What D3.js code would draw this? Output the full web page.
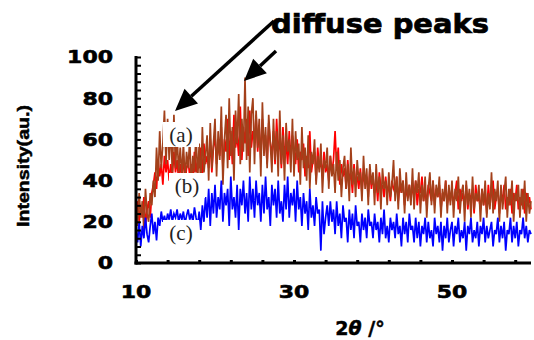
<!DOCTYPE html>
<html>
<head>
<meta charset="utf-8">
<script src="https://cdn.jsdelivr.net/npm/d3@7"></script>
<style>
  body { margin: 0; background: #fff; }
  svg { display: block; }
</style>
</head>
<body>
<script>
// ─── DATA (2θ from 10 to 60, step 0.2°) ────────────────────────────────
const start = 10, step = 0.2;

const seriesA = [ // (a) brown
  28, 18, 34, 22, 30, 16, 36, 24, 20, 34, 28, 40, 32, 56, 40, 64, 46, 58, 74, 48, 70, 50, 66, 44, 72,
  46, 62, 44, 56, 42, 58, 40, 54, 46, 60, 38, 52, 44, 64, 40, 58, 36, 66, 44, 52, 62, 40, 68, 46, 58,
  70, 42, 64, 50, 76, 38, 60, 72, 46, 80, 52, 66, 40, 74, 58, 82, 48, 70, 54, 90, 50, 76, 44, 72, 80,
  48, 74, 56, 70, 42, 78, 52, 66, 46, 72, 58, 44, 70, 50, 64, 42, 74, 48, 62, 40, 68, 54, 60, 44, 70,
  42, 64, 50, 58, 38, 66, 46, 56, 40, 62, 36, 54, 48, 60, 38, 52, 44, 58, 34, 50, 46, 56, 36, 52, 42,
  48, 34, 54, 40, 50, 32, 46, 52, 36, 48, 30, 56, 38, 46, 32, 50, 40, 44, 30, 52, 36, 46, 28, 48, 38,
  44, 28, 48, 34, 42, 26, 46, 36, 40, 28, 44, 32, 38, 50, 30, 42, 26, 46, 34, 40, 24, 44, 30, 38, 28,
  46, 26, 40, 34, 44, 24, 38, 30, 42, 22, 36, 44, 28, 40, 24, 38, 32, 42, 22, 36, 30, 40, 24, 38, 28,
  40, 22, 36, 30, 42, 24, 34, 38, 20, 40, 28, 36, 22, 42, 26, 34, 30, 38, 20, 36, 28, 40, 22, 34, 26,
  44, 24, 36, 30, 40, 20, 38, 26, 34, 42, 22, 36, 28, 40, 20, 34, 30, 38, 22, 36, 26, 40, 20, 34, 24,
  30
];

const seriesB = [ // (b) red
  24, 30, 20, 28, 22, 32, 18, 26, 30, 22, 34, 38, 44, 36, 50, 42, 48, 38, 52, 44, 50, 40, 48, 42, 54,
  44, 50, 40, 48, 42, 52, 38, 46, 50, 42, 48, 40, 54, 44, 50, 46, 56, 42, 58, 48, 52, 46, 60, 44, 56,
  62, 48, 58, 52, 66, 46, 60, 54, 70, 50, 64, 48, 72, 56, 62, 52, 76, 50, 66, 58, 70, 52, 74, 56, 64,
  60, 72, 54, 66, 50, 70, 56, 62, 48, 68, 58, 52, 64, 48, 70, 54, 60, 46, 66, 52, 58, 48, 64, 50, 62,
  56, 48, 60, 44, 54, 50, 58, 42, 52, 46, 64, 44, 50, 54, 40, 56, 46, 50, 42, 54, 44, 48, 40, 52, 44,
  50, 64, 46, 56, 38, 48, 42, 46, 36, 50, 40, 44, 34, 48, 38, 42, 36, 46, 34, 44, 38, 42, 32, 46, 36,
  42, 34, 40, 30, 44, 36, 38, 32, 42, 34, 38, 30, 40, 36, 34, 42, 30, 38, 34, 40, 28, 36, 32, 38, 30,
  38, 32, 40, 28, 36, 34, 42, 30, 36, 28, 38, 34, 30, 40, 28, 36, 32, 38, 26, 34, 30, 40, 28, 34, 30,
  36, 28, 34, 40, 26, 36, 30, 34, 28, 38, 26, 34, 30, 36, 24, 38, 30, 32, 26, 36, 28, 34, 24, 38, 28,
  34, 40, 26, 32, 36, 24, 34, 30, 38, 26, 32, 28, 36, 24, 34, 30, 38, 26, 32, 28, 36, 24, 34, 28, 32,
  26
];

const seriesC = [ // (c) blue
  16, 10, 20, 8, 18, 12, 22, 14, 10, 18, 24, 14, 20, 11, 22, 18, 25, 20, 23, 19, 24, 21, 26, 20, 24,
  22, 26, 20, 24, 21, 25, 19, 23, 26, 21, 24, 20, 27, 22, 18, 25, 16, 28, 20, 32, 22, 36, 18, 34, 24,
  38, 22, 32, 26, 40, 20, 34, 28, 36, 18, 42, 26, 32, 22, 38, 16, 36, 28, 40, 24, 34, 20, 42, 26, 36,
  22, 40, 28, 34, 20, 38, 24, 42, 26, 32, 18, 38, 28, 36, 22, 40, 24, 30, 20, 38, 26, 42, 22, 34, 28,
  36, 20, 40, 26, 32, 18, 34, 24, 30, 16, 36, 22, 28, 18, 32, 24, 26, 6, 30, 14, 22, 28, 18, 30, 20,
  26, 14, 30, 18, 24, 12, 28, 20, 22, 10, 26, 16, 24, 12, 28, 18, 20, 10, 24, 16, 22, 12, 26, 18, 20,
  12, 24, 16, 20, 10, 22, 14, 26, 12, 18, 10, 22, 16, 20, 12, 24, 14, 18, 8, 22, 14, 20, 10, 24, 16,
  18, 10, 22, 12, 20, 8, 18, 14, 22, 10, 20, 12, 16, 8, 22, 14, 18, 10, 20, 6, 18, 12, 22, 10, 16,
  20, 8, 18, 14, 22, 10, 16, 12, 20, 6, 18, 14, 22, 10, 16, 12, 20, 8, 18, 14, 22, 10, 18, 12, 16,
  20, 8, 16, 14, 22, 10, 18, 12, 20, 6, 16, 14, 22, 10, 18, 12, 20, 8, 16, 14, 22, 12, 18, 10, 16,
  14
];

const yTickLabels = [0, 20, 40, 60, 80, 100];
const xTickLabels = [10, 30, 50];
const seriesLabels = ["(a)", "(b)", "(c)"];

// ─── LAYOUT ────────────────────────────────────────────────────────────
const width = 534, height = 340;
const x = d3.scaleLinear().domain([10, 60]).range([136, 531]);
const y = d3.scaleLinear().domain([0, 100]).range([263, 57]);

const svg = d3.select("body").append("svg")
  .attr("width", width)
  .attr("height", height);

// series drawn red, brown, blue
const line = d3.line()
  .x((d, i) => x(start + i * step))
  .y(d => y(d));

const series = [
  { data: seriesB, color: "#ff0000" },
  { data: seriesA, color: "#a3401a" },
  { data: seriesC, color: "#0000ff" }
];

svg.selectAll("path.series")
  .data(series)
  .join("path")
    .attr("class", "series")
    .attr("d", d => line(d.data))
    .attr("fill", "none")
    .attr("stroke", d => d.color)
    .attr("stroke-width", 1.7)
    .attr("stroke-linejoin", "miter");

// ─── SERIES LABEL BOXES ────────────────────────────────────────────────
const labelPos = [[181, 135], [187, 186], [181, 233]];
const boxes = svg.selectAll("g.lab")
  .data(seriesLabels)
  .join("g")
    .attr("class", "lab")
    .attr("transform", (d, i) => `translate(${labelPos[i][0]},${labelPos[i][1]})`);
boxes.append("rect")
  .attr("x", -18).attr("y", -13).attr("width", 36).attr("height", 25)
  .attr("fill", "#fff");
boxes.append("text")
  .attr("text-anchor", "middle")
  .attr("dy", "0.35em")
  .attr("font-family", "'Liberation Serif', 'Times New Roman', serif")
  .attr("font-size", 21)
  .attr("fill", "#222")
  .text(d => d);

// ─── AXES ──────────────────────────────────────────────────────────────
const yMinor = d3.range(0, 101, 4);
const xMinor = d3.range(10, 61, 4);

const yAx = svg.append("g")
  .attr("transform", `translate(${x(10)},0)`)
  .call(d3.axisRight(y).tickValues(yMinor).tickSize(5).tickFormat(""));
yAx.select(".domain").remove();
yAx.selectAll("line").attr("stroke", "#000").attr("stroke-width", 2);

const xAx = svg.append("g")
  .attr("transform", `translate(0,${y(0)})`)
  .call(d3.axisTop(x).tickValues(xMinor).tickSize(3).tickFormat(""));
xAx.select(".domain").remove();
xAx.selectAll("line").attr("stroke", "#000").attr("stroke-width", 3);

svg.append("line")
  .attr("x1", x(10)).attr("x2", x(10))
  .attr("y1", y(100) - 1).attr("y2", y(0) + 1.5)
  .attr("stroke", "#000").attr("stroke-width", 3);
svg.append("line")
  .attr("x1", x(10) - 1.5).attr("x2", x(60))
  .attr("y1", y(0)).attr("y2", y(0))
  .attr("stroke", "#000").attr("stroke-width", 3);

const tickFont = "'DejaVu Sans', Verdana, sans-serif";

svg.selectAll("text.ylab")
  .data(yTickLabels)
  .join("text")
    .attr("class", "ylab")
    .attr("x", 113)
    .attr("y", d => y(d))
    .attr("dy", "0.36em")
    .attr("text-anchor", "end")
    .attr("font-family", tickFont)
    .attr("font-weight", "bold")
    .attr("font-size", 18)
    .attr("stroke", "#000").attr("stroke-width", 0.6)
    .attr("textLength", d => String(d).length * 15.3)
    .attr("lengthAdjust", "spacingAndGlyphs")
    .text(d => d);

svg.selectAll("text.xlab")
  .data(xTickLabels)
  .join("text")
    .attr("class", "xlab")
    .attr("x", d => x(d))
    .attr("y", 297.5)
    .attr("text-anchor", "middle")
    .attr("font-family", tickFont)
    .attr("font-weight", "bold")
    .attr("font-size", 18)
    .attr("stroke", "#000").attr("stroke-width", 0.6)
    .attr("textLength", d => String(d).length * 15.3)
    .attr("lengthAdjust", "spacingAndGlyphs")
    .text(d => d);

// axis titles
svg.append("text")
  .attr("transform", "translate(29,166) rotate(-90)")
  .attr("text-anchor", "middle")
  .attr("font-family", "'Liberation Sans', Arial, sans-serif")
  .attr("font-weight", "bold")
  .attr("font-size", 17)
  .attr("stroke", "#000").attr("stroke-width", 0.5)
  .attr("textLength", 122)
  .attr("lengthAdjust", "spacingAndGlyphs")
  .text("Intensity(au.)");

const xt = svg.append("text")
  .attr("x", 360).attr("y", 335)
  .attr("text-anchor", "middle")
  .attr("font-family", tickFont)
  .attr("font-weight", "bold")
  .attr("font-size", 19)
  .attr("stroke", "#000").attr("stroke-width", 0.5);
xt.append("tspan").text("2");
xt.append("tspan").attr("font-style", "italic").text("θ");
xt.append("tspan").text(" /°");

// ─── ANNOTATION ────────────────────────────────────────────────────────
svg.append("text")
  .attr("x", 271).attr("y", 33)
  .attr("font-family", tickFont)
  .attr("font-weight", "bold")
  .attr("font-size", 27)
  .attr("stroke", "#000").attr("stroke-width", 0.7)
  .attr("textLength", 218)
  .attr("lengthAdjust", "spacingAndGlyphs")
  .text("diffuse peaks");

function arrow(x1, y1, x2, y2) {
  const ang = Math.atan2(y2 - y1, x2 - x1);
  const len = 22, half = 10;
  const bx = x2 - len * Math.cos(ang), by = y2 - len * Math.sin(ang);
  svg.append("line")
    .attr("x1", x1).attr("y1", y1).attr("x2", bx).attr("y2", by)
    .attr("stroke", "#000").attr("stroke-width", 3.5);
  const px = -Math.sin(ang) * half, py = Math.cos(ang) * half;
  svg.append("path")
    .attr("d", `M${x2},${y2}L${bx + px},${by + py}L${bx - px},${by - py}Z`)
    .attr("fill", "#000");
}
arrow(274, 21, 175, 111);
arrow(276, 51, 244, 81);
</script>
</body>
</html>
